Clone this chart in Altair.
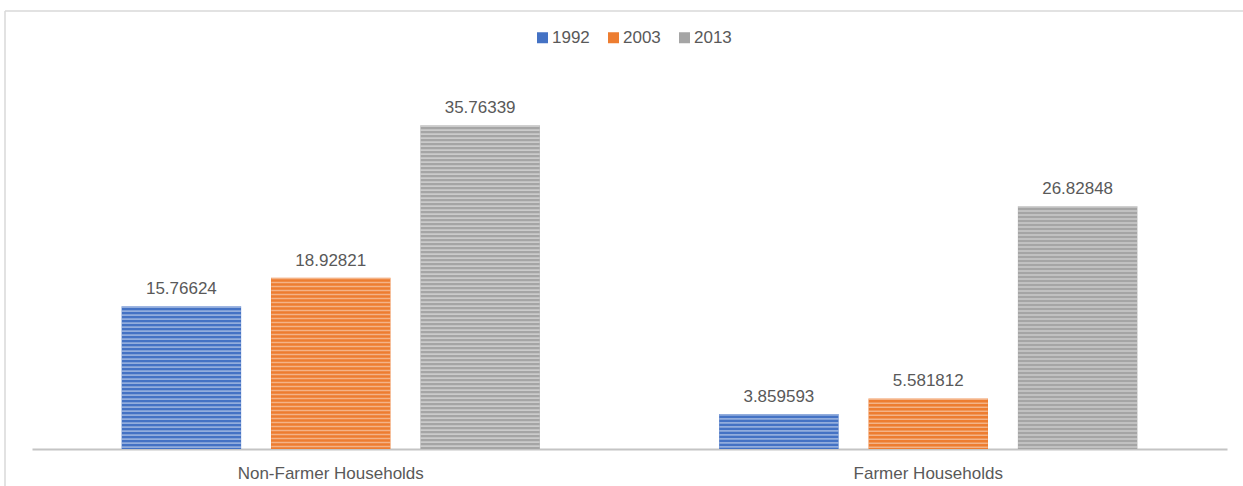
import altair as alt
import pandas as pd

groups = ["Non-Farmer Households", "Farmer Households"]
years = ["1992", "2003", "2013"]
values_1992 = [15.76624, 3.859593]
values_2003 = [18.92821, 5.581812]
values_2013 = [35.76339, 26.82848]
labels_1992 = ["15.76624", "3.859593"]
labels_2003 = ["18.92821", "5.581812"]
labels_2013 = ["35.76339", "26.82848"]
colors = ["#4472C4", "#ED7D31", "#A5A5A5"]

rows = []
for vals, labs, yr in [(values_1992, labels_1992, "1992"),
                       (values_2003, labels_2003, "2003"),
                       (values_2013, labels_2013, "2013")]:
    for g, v, l in zip(groups, vals, labs):
        rows.append({"group": g, "year": yr, "value": v, "label": l})
df = pd.DataFrame(rows)

FONT = "Liberation Sans"
TXT = "#595959"
FS = 17

x = alt.X("group:N", sort=groups,
          scale=alt.Scale(paddingInner=0, paddingOuter=0),
          axis=alt.Axis(title=None, labelAngle=0, ticks=False, domainColor="#c4c4c4",
                        domainWidth=2, labelFont=FONT, labelFontSize=FS,
                        labelColor=TXT, labelPadding=16, labelLimit=0))
xo = alt.XOffset("year:N", sort=years,
                 scale=alt.Scale(paddingInner=0.2, paddingOuter=0.6))
y = alt.Y("value:Q", scale=alt.Scale(domain=[0, 40], nice=False),
          axis=None)

base = alt.Chart(df)

bars = base.mark_bar().encode(
    x=x, xOffset=xo, y=y,
    color=alt.Color("year:N", sort=years,
                    scale=alt.Scale(domain=years, range=colors),
                    legend=alt.Legend(title=None, orient="none", direction="horizontal",
                                      legendX=502, legendY=-58, padding=0,
                                      symbolType="square", symbolSize=121,
                                      symbolStrokeWidth=0, labelOffset=1,
                                      columnPadding=15, labelFont=FONT,
                                      labelFontSize=FS, labelColor=TXT)),
)

stripes = base.mark_rule(strokeWidth=119, strokeDash=[1.6, 2.4], color="white",
                         opacity=0.42, strokeCap="butt").encode(
    x=alt.X("group:N", sort=groups), xOffset=alt.XOffset("year:N", sort=years),
    y=alt.Y("value:Q"), y2=alt.datum(0),
)

texts = base.mark_text(baseline="bottom", dy=-8, font=FONT, fontSize=FS,
                       color=TXT).encode(
    x=alt.X("group:N", sort=groups), xOffset=alt.XOffset("year:N", sort=years),
    y=alt.Y("value:Q"), text="label:N",
)

border_top = alt.Chart(pd.DataFrame({"a": [0]})).mark_rule(
    color="#d9d9d9", strokeWidth=1.5, clip=False).encode(
    x=alt.value(-27), x2=alt.value(1215), y=alt.value(-76))
border_left = alt.Chart(pd.DataFrame({"a": [0]})).mark_rule(
    color="#d9d9d9", strokeWidth=1.5, clip=False).encode(
    x=alt.value(-27), y=alt.value(-76), y2=alt.value(420))

chart = alt.layer(border_top, border_left, bars, stripes, texts).properties(
    width=1195, height=362,
    background="white",
    autosize=alt.AutoSizeParams(type="none"),
    padding={"left": 32, "top": 87, "right": 16, "bottom": 37},
).configure_view(strokeWidth=0)

chart.save("out.html", embed_options={"renderer": "svg", "actions": False})
